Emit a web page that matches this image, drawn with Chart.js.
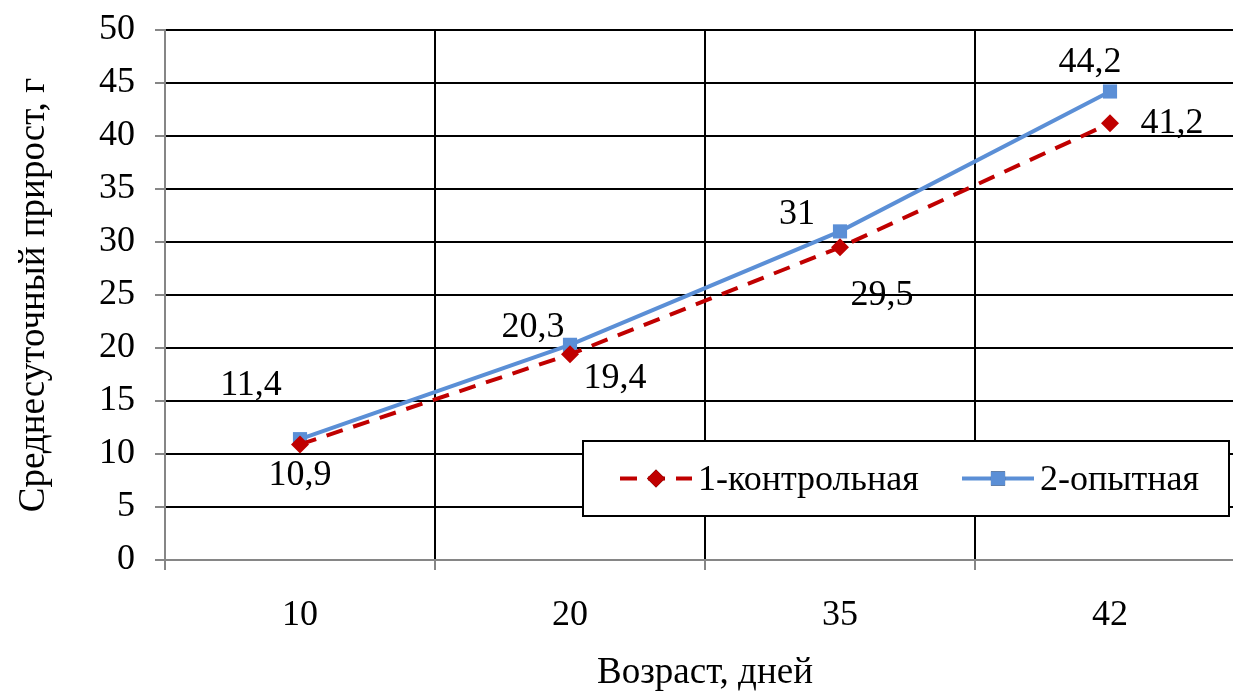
<!DOCTYPE html>
<html>
<head>
<meta charset="utf-8">
<script src="https://cdn.jsdelivr.net/npm/chart.js@4"></script>
<style>
  html, body { margin: 0; padding: 0; background: #fff; overflow: hidden; }
  #wrap { width: 1255px; height: 695px; }
</style>
</head>
<body>
<div id="wrap"><canvas id="chart" width="1255" height="695"></canvas></div>
<script>
// данные графика
const ages = ['10', '20', '35', '42'];
const control = [10.9, 19.4, 29.5, 41.2];
const trial = [11.4, 20.3, 31, 44.2];
const seriesNames = ['1-контрольная', '2-опытная'];
const yTicks = [0, 5, 10, 15, 20, 25, 30, 35, 40, 45, 50];

// смещения подписей значений (px) относительно точки
const labelShift = [
  [[0, 31], [45, 24], [42, 48], [62, 0]],
  [[-49, -54], [-37, -17], [-43, -17], [-20, -29]]
];

const FONT = '"Liberation Serif", "Times New Roman", serif';
const RED = '#C00000';
const BLUE = '#5B8FD6';
const AXIS = '#868686';

Chart.defaults.font.family = FONT;
Chart.defaults.font.size = 36;
Chart.defaults.color = '#000';

const fmt = v => String(v).replace('.', ',');

// подписи значений
const valueLabels = {
  id: 'valueLabels',
  afterDatasetsDraw(chart) {
    const ctx = chart.ctx;
    ctx.save();
    ctx.font = '36px ' + FONT;
    ctx.fillStyle = '#000';
    ctx.textAlign = 'center';
    ctx.textBaseline = 'middle';
    chart.data.datasets.forEach((ds, di) => {
      chart.getDatasetMeta(di).data.forEach((pt, i) => {
        const s = labelShift[di][i];
        ctx.fillText(fmt(ds.data[i]), pt.x + s[0], pt.y + s[1]);
      });
    });
    ctx.restore();
  }
};

// легенда в рамке внутри области графика
const boxLegend = {
  id: 'boxLegend',
  afterDraw(chart) {
    const ctx = chart.ctx;
    const a = chart.chartArea;
    const x0 = a.left + 418, y0 = a.top + 411, w = 646, h = 75;
    ctx.save();
    ctx.fillStyle = '#fff';
    ctx.fillRect(x0, y0, w, h);
    ctx.strokeStyle = '#000';
    ctx.lineWidth = 2;
    ctx.strokeRect(x0, y0, w, h);
    const cy = y0 + h / 2;
    ctx.font = '36px ' + FONT;
    ctx.fillStyle = '#000';
    ctx.textBaseline = 'middle';
    const items = [
      { x: x0 + 37, ds: chart.data.datasets[0] },
      { x: x0 + 379, ds: chart.data.datasets[1] }
    ];
    items.forEach(it => {
      const ds = it.ds;
      ctx.strokeStyle = ds.borderColor;
      ctx.lineWidth = ds.borderWidth;
      ctx.setLineDash(ds.borderDash || []);
      ctx.beginPath();
      ctx.moveTo(it.x, cy);
      ctx.lineTo(it.x + 72, cy);
      ctx.stroke();
      ctx.setLineDash([]);
      Chart.helpers.drawPoint(ctx, {
        pointStyle: ds.pointStyle, radius: ds.pointRadius, borderWidth: 0
      }, it.x + 36, cy);
      ctx.fillStyle = ds.pointBackgroundColor;
      ctx.fill();
      ctx.fillStyle = '#000';
      ctx.fillText(ds.label, it.x + 78, cy + 2);
    });
    ctx.restore();
  }
};

new Chart(document.getElementById('chart'), {
  type: 'line',
  data: {
    labels: ages,
    datasets: [
      {
        label: seriesNames[0],
        data: control,
        borderColor: RED,
        backgroundColor: RED,
        pointBackgroundColor: RED,
        pointBorderColor: RED,
        borderWidth: 4,
        borderDash: [17, 11],
        pointStyle: 'rectRot',
        pointRadius: 9,
        pointBorderWidth: 0,
        tension: 0
      },
      {
        label: seriesNames[1],
        data: trial,
        borderColor: BLUE,
        backgroundColor: BLUE,
        pointBackgroundColor: BLUE,
        pointBorderColor: BLUE,
        borderWidth: 4,
        pointStyle: 'rect',
        pointRadius: 10,
        pointBorderWidth: 0,
        tension: 0
      }
    ]
  },
  options: {
    responsive: false,
    animation: false,
    layout: { padding: { top: 30, right: 0, left: 0, bottom: 0 } },
    plugins: {
      legend: { display: false },
      tooltip: { enabled: false }
    },
    scales: {
      x: {
        offset: true,
        grid: {
          offset: true,
          color: ctx => ctx.index === 0 ? AXIS : '#000',
          lineWidth: 2,
          tickColor: AXIS,
          tickLength: 10
        },
        border: { color: AXIS, width: 2 },
        ticks: { padding: 24, font: { size: 36 } },
        title: {
          display: true,
          text: 'Возраст, дней',
          font: { size: 37 },
          padding: { top: 14, bottom: 0 }
        },
        afterFit: s => { s.height = 135; }
      },
      y: {
        min: 0,
        max: 50,
        afterBuildTicks: s => { s.ticks = yTicks.map(v => ({ value: v })); },
        grid: {
          color: ctx => ctx.index === 0 ? AXIS : '#000',
          lineWidth: 2,
          tickColor: AXIS,
          tickLength: 10
        },
        border: { color: AXIS, width: 2 },
        ticks: { padding: 20, font: { size: 36 } },
        title: {
          display: true,
          text: 'Среднесуточный прирост, г',
          font: { size: 37 },
          padding: { top: 12, bottom: 0 }
        },
        afterFit: s => {
          s.width = 165;
          s.paddingTop = 0;
          s.paddingBottom = 0;
        }
      }
    }
  },
  plugins: [valueLabels, boxLegend]
});
</script>
</body>
</html>
